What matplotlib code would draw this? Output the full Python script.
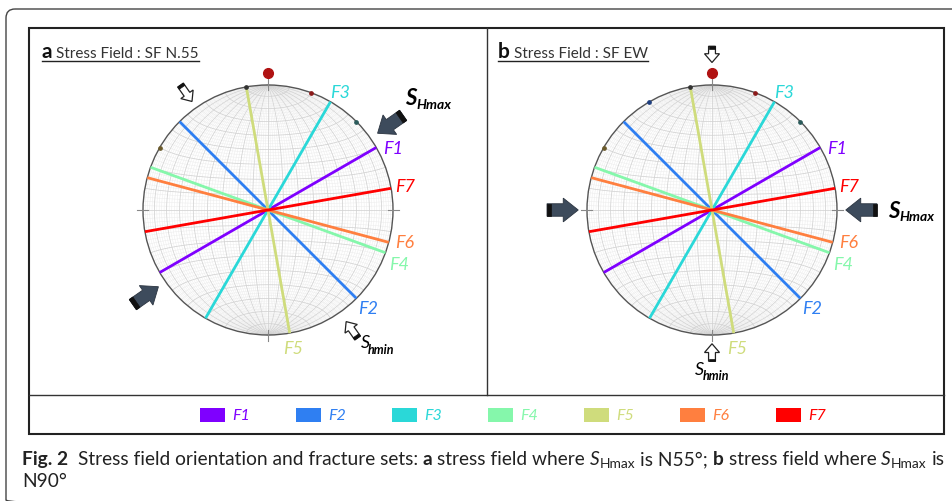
import numpy as np
import matplotlib
matplotlib.use("Agg")
import matplotlib.pyplot as plt
from matplotlib.patches import Polygon, Rectangle, FancyBboxPatch, Circle

# ---------------- data ----------------
fracture_sets = ["F1", "F2", "F3", "F4", "F5", "F6", "F7"]
fracture_strike = [60, 135, 30, 110, 170, 105, 80]          # degrees from N
fracture_colors = ["#7f00ff", "#2f7ff2", "#2ad8d8", "#85f7ab",
                   "#cfdc7c", "#ff7f3f", "#ff0000"]
panel_letters = ["a", "b"]
panel_titles = ["Stress Field : SF N.55", "Stress Field : SF EW"]
shmax_azimuth = [55, 90]
pole_dots_a = [350, 20, 45, 300]
pole_dots_b = [350, 20, 330, 45, 300]
pole_dot_colors = {350: "#333333", 20: "#8b1a1a", 45: "#2b5b5b",
                   300: "#6b5a2b", 330: "#1f3f7f"}

FONT = ["Lato", "DejaVu Sans"]
W, H = 953, 502
fig = plt.figure(figsize=(W / 100, H / 100), dpi=100)
bg = fig.add_axes([0, 0, 1, 1])
bg.set_xlim(0, W)
bg.set_ylim(H, 0)
bg.axis("off")
renderer = fig.canvas.get_renderer()

# ---------------- frames ----------------
bg.add_patch(FancyBboxPatch((6, 10), 970, 500, boxstyle="round,pad=0,rounding_size=9",
                            fc="none", ec="#444444", lw=1.0))
bg.add_patch(Rectangle((29, 29), 915, 406, fc="none", ec="#222222", lw=1.5))
bg.plot([29, 944], [396, 396], color="#333333", lw=1.0)
bg.plot([487, 487], [29, 396], color="#333333", lw=1.0)


def text_width(s, **kw):
    t1 = bg.text(0, 0, "|" + s + "|", **kw)
    t2 = bg.text(0, 0, "||", **kw)
    w = t1.get_window_extent(renderer).width - t2.get_window_extent(renderer).width
    t1.remove(); t2.remove()
    return w


# ---------------- stereonet ----------------
def project(lam, phi):
    lam = np.radians(lam); phi = np.radians(phi)
    x = np.cos(phi) * np.sin(lam)
    y = np.sin(phi)
    z = np.cos(phi) * np.cos(lam)
    f = np.sqrt(1.0 / (1.0 + z))
    return x * f, y * f


def arrow_verts(az, tip_r, tail_r, shaft_w, head_w, head_len):
    a = np.radians(az)
    u = np.array([np.sin(a), np.cos(a)])
    d = -u
    n = np.array([d[1], -d[0]])
    tip = u * tip_r
    tail = u * tail_r
    base = tip - d * head_len
    return [tail + n * shaft_w / 2, base + n * shaft_w / 2, base + n * head_w / 2, tip,
            base - n * head_w / 2, base - n * shaft_w / 2, tail - n * shaft_w / 2], tail, d, n


def draw_arrow(ax, az, tip_r, tail_r, dark):
    if dark:
        sw, hw, hl, cap = 0.10, 0.19, 0.12, 0.035
    else:
        sw, hw, hl, cap = 0.055, 0.12, 0.07, 0.022
    v, tail, d, n = arrow_verts(az, tip_r, tail_r, sw, hw, hl)
    if dark:
        ax.add_patch(Polygon(v, closed=True, fc="#3d4b5c", ec="#2b3440", lw=0.6, zorder=6))
    else:
        ax.add_patch(Polygon(v, closed=True, fc="white", ec="#222222", lw=0.9, zorder=6))
    capv = [tail + n * sw / 2, tail + n * sw / 2 + d * cap,
            tail - n * sw / 2 + d * cap, tail - n * sw / 2]
    ax.add_patch(Polygon(capv, closed=True, fc="#111111", ec="#111111", lw=0.5, zorder=7))


label_pos = [(1.00, 0.50), (0.80, -0.78), (0.58, 0.94), (1.05, -0.43),
             (0.20, -1.10), (1.09, -0.26), (1.10, 0.19)]


def make_net(cx, cy, idx, r=125.0, L=1.6):
    ax = fig.add_axes([(cx - L * r) / W, (H - cy - L * r) / H, 2 * L * r / W, 2 * L * r / H])
    ax.set_xlim(-L, L); ax.set_ylim(-L, L); ax.axis("off")
    t = np.linspace(-90, 90, 181)
    for step_deg, col, lw in [(2, "#ececec", 0.35), (10, "#d2d2d2", 0.55)]:
        for v in np.arange(-90 + step_deg, 90, step_deg):
            if step_deg == 2 and v % 10 == 0:
                continue
            x, y = project(np.full_like(t, v), t)
            ax.plot(x, y, color=col, lw=lw, zorder=1)
            x, y = project(t, np.full_like(t, v))
            ax.plot(x, y, color=col, lw=lw, zorder=1)
    ax.add_patch(Circle((0, 0), 1.0, fc="none", ec="#555555", lw=1.0, zorder=3))
    for az in [0, 90, 180, 270]:
        a = np.radians(az)
        ax.plot([0.96 * np.sin(a), 1.05 * np.sin(a)], [0.96 * np.cos(a), 1.05 * np.cos(a)],
                color="#888888", lw=0.8, zorder=3)
    ax.plot([-0.03, 0.03], [0, 0], color="#888888", lw=0.6, zorder=2)
    ax.plot([0, 0], [-0.03, 0.03], color="#888888", lw=0.6, zorder=2)
    # fracture planes
    for s, c in zip(fracture_strike, fracture_colors):
        a = np.radians(s)
        ax.plot([-np.sin(a), np.sin(a)], [-np.cos(a), np.cos(a)], color=c, lw=2.0,
                solid_capstyle="butt", zorder=4)
    for name, c, (lx, ly) in zip(fracture_sets, fracture_colors, label_pos):
        ax.text(lx, ly, name, color=c, fontsize=13, style="italic", family=FONT,
                ha="center", va="center", zorder=8)
    dots = pole_dots_a if idx == 0 else pole_dots_b
    for az in dots:
        a = np.radians(az)
        ax.plot(np.sin(a), np.cos(a), "o", ms=2.4, color=pole_dot_colors[az], zorder=5)
    ax.plot(0, 1.095, "o", ms=7, color="#b01212", zorder=5)
    # stress arrows
    smax = shmax_azimuth[idx]
    for az in [smax, smax + 180]:
        draw_arrow(ax, az, 1.07, 1.32, True)
    if idx == 0:
        draw_arrow(ax, smax + 270, 1.06, 1.22, False)
        draw_arrow(ax, smax + 90, 1.09, 1.25, False)
        ax.text(1.10, 0.90, "S", fontsize=16, weight="bold", style="italic", family=FONT,
                ha="left", va="center", zorder=8)
        ax.text(1.19, 0.85, "Hmax", fontsize=10, weight="bold", style="italic", family=FONT,
                ha="left", va="center", zorder=8)
        ax.text(0.74, -1.06, "S", fontsize=13, style="italic", family=FONT,
                ha="left", va="center", zorder=8)
        ax.text(0.80, -1.11, "hmin", fontsize=9, weight="bold", style="italic", family=FONT,
                ha="left", va="center", zorder=8)
    else:
        draw_arrow(ax, 0, 1.18, 1.31, False)
        draw_arrow(ax, 180, 1.07, 1.21, False)
        ax.text(1.41, 0.0, "S", fontsize=16, weight="bold", style="italic", family=FONT,
                ha="left", va="center", zorder=8)
        ax.text(1.50, -0.05, "Hmax", fontsize=10, weight="bold", style="italic", family=FONT,
                ha="left", va="center", zorder=8)
        ax.text(-0.14, -1.27, "S", fontsize=13, style="italic", family=FONT,
                ha="left", va="center", zorder=8)
        ax.text(-0.07, -1.32, "hmin", fontsize=9, weight="bold", style="italic", family=FONT,
                ha="left", va="center", zorder=8)
    return ax


make_net(268, 211, 0)
make_net(712, 211, 1)

# ---------------- panel titles ----------------
for x0, letter, title in [(42, panel_letters[0], panel_titles[0]),
                          (498, panel_letters[1], panel_titles[1])]:
    bg.text(x0, 58, letter, fontsize=15, weight="bold", family=FONT, ha="left",
            va="baseline", color="#111111")
    w1 = text_width(letter, fontsize=15, weight="bold", family=FONT)
    x1 = x0 + w1 + text_width(" ", fontsize=11, family=FONT)
    bg.text(x1, 58, title, fontsize=11, family=FONT, ha="left", va="baseline", color="#333333")
    w2 = text_width(title, fontsize=11, family=FONT)
    bg.plot([x0, x1 + w2], [61.5, 61.5], color="#222222", lw=1.0)

# ---------------- legend ----------------
leg_x0, leg_dx = 200, 96
for i, (name, c) in enumerate(zip(fracture_sets, fracture_colors)):
    x = leg_x0 + i * leg_dx
    bg.add_patch(Rectangle((x, 409), 25, 14, fc=c, ec="none"))
    bg.text(x + 32, 416.5, name, color=c, fontsize=11.5, style="italic", family=FONT,
            ha="left", va="center")

# ---------------- caption ----------------
runs = [("Fig. 2", dict(weight="bold"), 0, 1.0),
        ("Stress field orientation and fracture sets:", {}, 2, 1.0),
        ("a", dict(weight="bold"), 1, 1.0),
        ("stress field where", {}, 1, 1.0),
        ("S", dict(style="italic"), 1, 1.0),
        ("Hmax", {}, 0, 0.72),
        ("is N55°;", {}, 1, 1.0),
        ("b", dict(weight="bold"), 1, 1.0),
        ("stress field where", {}, 1, 1.0),
        ("S", dict(style="italic"), 1, 1.0),
        ("Hmax", {}, 0, 0.72),
        ("is", {}, 1, 1.0)]


def layout(size, draw):
    x = 22.0
    for s, props, nsp, scale in runs:
        fs = size * scale
        x += nsp * text_width(" ", fontsize=size, family=FONT)
        y = 465 + (3.5 if scale < 1 else 0)
        if draw:
            bg.text(x, y, s, fontsize=fs, family=FONT, color="#222222",
                    ha="left", va="baseline", **props)
        x += text_width(s, fontsize=fs, family=FONT, **props)
    return x


base = 12.0
end = layout(base, False)
size = base * (945 - 22) / (end - 22)
layout(size, True)
bg.text(22, 487, "N90°", fontsize=size, family=FONT, color="#222222", ha="left", va="baseline")

fig.savefig("out.png", dpi=100, facecolor="white")
